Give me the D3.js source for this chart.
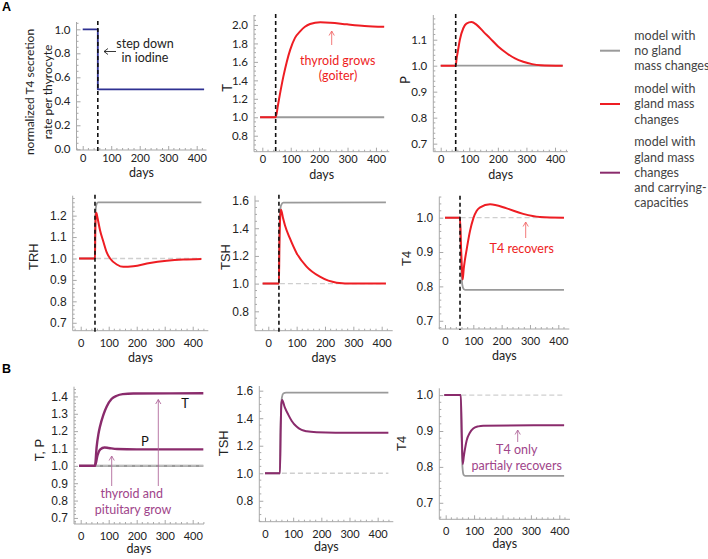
<!DOCTYPE html>
<html><head><meta charset="utf-8">
<script src="https://cdn.jsdelivr.net/npm/d3@7"></script>
<style>body{margin:0;background:#fff}</style>
</head><body>
<svg id="c" width="708" height="559"></svg>
<script>
// ---------------- DATA ----------------
const xTickValues = [0, 100, 200, 300, 400];
const secretionSteps = [[0,1],[53,1],[53,0.5],[426,0.5]];

const thyroidNoGlandA = [[-8,1],[429,1]];
const thyroidGlandA = [[-8,1],[47,1],[55,1.13],[62,1.25],[74,1.44],[86,1.6],[98,1.73],[115,1.86],[133,1.93],[150,1.98],[168,2.01],[204,2.03],[240,2.025],[298,2.007],[360,1.99],[429,1.98]];

const pituitaryNoGlandA = [[0,1],[427,1]];
const pituitaryGlandA = [[0,1],[52.5,1],[56,1.03],[60,1.055],[67,1.1],[79,1.144],[90,1.162],[108,1.168],[125,1.158],[150,1.13],[173,1.105],[200,1.075],[231,1.048],[260,1.028],[289,1.015],[320,1.006],[350,1.002],[427,1.0]];

const trhNoGlandA = [[-6,1],[51,1],[52,1.17],[54,1.235],[57,1.255],[62,1.262],[431,1.262]];
const trhGlandA = [[-6,1],[51,1],[52,1.12],[54,1.2],[56,1.213],[60,1.19],[69,1.132],[81,1.078],[93,1.028],[105,1.0],[129,0.972],[152,0.961],[188,0.964],[247,0.979],[307,0.989],[366,0.995],[431,0.998]];

const tshNoGlandA = [[-20,1],[37.5,1],[39,1.3],[41,1.5],[45,1.565],[53,1.585],[415,1.587]];
const tshGlandA = [[-20,1],[37.5,1],[39,1.25],[42,1.48],[45,1.533],[52,1.474],[59,1.42],[76,1.328],[100,1.22],[135,1.123],[182,1.05],[241,1.007],[300,1.0],[415,1.0]];

const t4NoGlandA = [[0,1],[53,1],[56,0.9],[58,0.84],[61,0.805],[66,0.792],[72,0.79],[420,0.79]];
const t4GlandA = [[0,1],[53,1],[56,0.93],[59.5,0.855],[62.5,0.82],[66,0.85],[70,0.875],[77,0.91],[88,0.96],[100,0.998],[112,1.02],[124,1.03],[159,1.039],[218,1.027],[276,1.011],[335,1.002],[420,1.0]];

const noGlandB = [[-6,1],[438,1]];
const thyroidCarry = [[-6,1],[51,1],[57,1.11],[63,1.18],[69,1.227],[81,1.294],[93,1.342],[110,1.385],[129,1.404],[150,1.413],[188,1.417],[438,1.418]];
const pituitaryCarry = [[-6,1],[51,1],[60,1.06],[70,1.095],[85,1.106],[100,1.103],[130,1.097],[200,1.095],[438,1.095]];

const tshNoGlandB = [[0,1],[53,1],[55,1.3],[57,1.45],[60,1.55],[65,1.58],[75,1.586],[438,1.586]];
const tshCarry = [[0,1],[53,1],[56,1.35],[58,1.5],[61,1.533],[70,1.48],[83,1.424],[95,1.38],[112,1.339],[130,1.315],[148,1.305],[183,1.298],[250,1.295],[438,1.295]];

const t4NoGlandB = [[-5,1],[53,1],[56,0.88],[59,0.8],[63,0.778],[68,0.775],[417,0.775]];
const t4Carry = [[-5,1],[53,1],[57,0.88],[60,0.808],[64,0.83],[68,0.85],[74,0.874],[85,0.895],[97,0.907],[115,0.913],[132,0.915],[417,0.916]];

const legendLabels = [
  ["model with","no gland","mass changes"],
  ["model with","gland mass","changes"],
  ["model with","gland mass","changes","and carrying-","capacities"]
];

// ---------------- STYLE ----------------
const RED = "#ee1d23", GRAY = "#9a9a9a", PURPLE = "#8a2b6c", PURPLE_TXT = "#a0458a", BLUE = "#2e3192";
const LATO = "Lato, 'Open Sans', sans-serif";
const ARIAL = "'Liberation Sans', Arial, sans-serif";

const svg = d3.select("#c");

const rows = {
  1: {tickOff: 11.7, daysOff: 27.3, yFont: LATO, ySize: 11.5},
  2: {tickOff: 16.3, daysOff: 31.3, yFont: ARIAL, ySize: 12},
  3: {tickOff: 16, daysOff: 29, yFont: ARIAL, ySize: 12}
};

const panels = [
  {row:1, L:76.5, R:206.5, T:22, B:150, xd:[-21.8,434.4], yd:[-0.006,1.061], yt:[0,.2,.4,.6,.8,1], ym:0.05, event:53,
   series:[{d:secretionSteps, c:BLUE, w:1.8, linear:true}]},
  {row:1, L:254, R:389.3, T:15, B:151.7, xd:[-29.3,447], yd:[0.627,2.108], yt:[.8,1,1.2,1.4,1.6,1.8,2.0], ym:0.05, event:47,
   series:[{d:thyroidNoGlandA, c:GRAY, w:1.8},{d:thyroidGlandA, c:RED, w:2}]},
  {row:1, L:433.3, R:568, T:15, B:151.7, xd:[-25.9,445.5], yd:[0.669,1.195], yt:[.7,.8,.9,1,1.1], ym:0.02, event:52.5,
   series:[{d:pituitaryNoGlandA, c:GRAY, w:1.8},{d:pituitaryGlandA, c:RED, w:2}]},
  {row:2, L:72.7, R:208.3, T:195.7, B:330.7, xd:[-28.6,455.7], yd:[0.663,1.293], yt:[.7,.8,.9,1,1.1,1.2], ym:0.02, event:51, ref:[55,431],
   series:[{d:trhNoGlandA, c:GRAY, w:1.8},{d:trhGlandA, c:RED, w:2}]},
  {row:2, L:255, R:392.7, T:195.7, B:330.7, xd:[-46.9,438.9], yd:[0.66,1.635], yt:[.8,1,1.2,1.4,1.6], ym:0.05, event:37.5, ref:[41,415],
   series:[{d:tshNoGlandA, c:GRAY, w:1.8},{d:tshGlandA, c:RED, w:2}]},
  {row:2, L:439.3, R:569.3, T:196.7, B:329, xd:[-20.1,438.8], yd:[0.676,1.061], yt:[.7,.8,.9,1], ym:0.02, event:53, ref:[55,420],
   series:[{d:t4NoGlandA, c:GRAY, w:1.8},{d:t4GlandA, c:RED, w:2}]},
  {row:3, L:74, R:204, T:386.7, B:524, xd:[-23.9,440.4], yd:[0.665,1.456], yt:[.7,.8,.9,1,1.1,1.2,1.3,1.4], ym:0.02, ref:[-6,438],
   series:[{d:noGlandB, c:GRAY, w:2.2},{d:pituitaryCarry, c:PURPLE, w:2.4},{d:thyroidCarry, c:PURPLE, w:2.4}]},
  {row:3, L:259.3, R:393.3, T:386, B:521.7, xd:[-20.2,455.5], yd:[0.648,1.634], yt:[.8,1,1.2,1.4,1.6], ym:0.05, ref:[60,438],
   series:[{d:tshNoGlandB, c:GRAY, w:1.8},{d:tshCarry, c:PURPLE, w:2}]},
  {row:3, L:439.3, R:570, T:388.3, B:519.3, xd:[-22.5,437.7], yd:[0.654,1.019], yt:[.7,.8,.9,1], ym:0.02, ref:[55,417],
   series:[{d:t4NoGlandB, c:GRAY, w:1.8},{d:t4Carry, c:PURPLE, w:2}]}
];

const AX = "#a8a8a8";
panels.forEach(p => {
  const rs = rows[p.row];
  const x = d3.scaleLinear().domain(p.xd).range([p.L, p.R]);
  const y = d3.scaleLinear().domain(p.yd).range([p.B, p.T]);
  const g = svg.append("g");

  // axes (frame left + bottom, inward ticks)
  const xMinor = d3.range(-20, p.xd[1], 20).filter(v => v >= p.xd[0] && !xTickValues.includes(v));
  const xa = d3.axisBottom(x).tickValues(xTickValues).tickSize(-4).tickPadding(0).tickFormat(d3.format("d"));
  const xg = g.append("g").attr("transform", `translate(0,${p.B})`).call(xa);
  xg.select(".domain").attr("stroke", AX).attr("d", `M${p.L},0H${p.R}`);
  xg.selectAll(".tick line").attr("stroke", AX);
  xg.selectAll(".tick text").attr("font-family", LATO).attr("font-size", 11).attr("fill", "#222")
    .attr("dy", null).attr("y", rs.tickOff);
  g.append("g").selectAll("line").data(xMinor).join("line")
    .attr("x1", d => x(d)).attr("x2", d => x(d)).attr("y1", p.B).attr("y2", p.B - 2)
    .attr("stroke", AX);

  const ya = d3.axisLeft(y).tickValues(p.yt).tickSize(-4).tickPadding(6).tickFormat(d3.format(".1f"));
  const yg = g.append("g").attr("transform", `translate(${p.L},0)`).call(ya);
  yg.select(".domain").attr("stroke", AX).attr("d", `M0,${p.T}V${p.B}`);
  yg.selectAll(".tick line").attr("stroke", AX);
  yg.selectAll(".tick text").attr("font-family", rs.yFont).attr("font-size", rs.ySize).attr("fill", "#222");
  const yMinor = d3.range(Math.ceil(p.yd[0] / p.ym) * p.ym, p.yd[1], p.ym)
    .filter(v => !p.yt.some(t => Math.abs(t - v) < 1e-6));
  g.append("g").selectAll("line").data(yMinor).join("line")
    .attr("x1", p.L).attr("x2", p.L + 2).attr("y1", d => y(d)).attr("y2", d => y(d))
    .attr("stroke", AX);

  // x label
  g.append("text").attr("x", (p.L + p.R) / 2).attr("y", p.B + rs.daysOff)
    .attr("text-anchor", "middle").attr("font-family", LATO).attr("font-size", 12.5).attr("fill", "#222").text("days");

  // reference dashed line
  if (p.ref) {
    if (p.row === 3 && p.ref[0] < 0) { /* handled after gray */ }
    else g.append("path").attr("d", d3.line()([[x(p.ref[0]), y(1)], [x(p.ref[1]), y(1)]]))
      .attr("stroke", "#cfcfcf").attr("stroke-width", 1.3).attr("stroke-dasharray", "5,3").attr("fill", "none");
  }

  p.series.forEach((s, i) => {
    const line = d3.line().x(d => x(d[0])).y(d => y(d[1])).curve(s.linear ? d3.curveLinear : d3.curveMonotoneX);
    g.append("path").attr("d", line(s.d)).attr("fill", "none").attr("stroke", s.c).attr("stroke-width", s.w)
      .attr("stroke-linejoin", "round");
    if (i === 0 && p.ref && p.ref[0] < 0) {
      g.append("path").attr("d", d3.line()([[x(p.ref[0]), y(1)], [x(p.ref[1]), y(1)]]))
        .attr("stroke", "#c8c8c8").attr("stroke-width", 1.4).attr("stroke-dasharray", "5,3").attr("fill", "none");
    }
  });

  if (p.event !== undefined) {
    g.append("line").attr("x1", x(p.event)).attr("x2", x(p.event)).attr("y1", p.T - 1).attr("y2", p.B + 1)
      .attr("stroke", "#111").attr("stroke-width", 1.6).attr("stroke-dasharray", "4,3");
  }
});

// ---------------- LABELS ----------------
function txt(x, y, s, opts = {}) {
  const t = svg.append("text").attr("x", x).attr("y", y).attr("text-anchor", opts.anchor || "middle")
    .attr("dominant-baseline", "central")
    .attr("font-family", opts.font || LATO).attr("font-size", opts.size || 12.5)
    .attr("fill", opts.color || "#222").text(s);
  if (opts.weight) t.attr("font-weight", opts.weight);
  if (opts.rot) t.attr("transform", `rotate(-90,${x},${y})`);
  return t;
}
function arrowUp(x, y1, y2, color) {
  svg.append("path").attr("d", `M${x},${y1}V${y2}M${x - 2.6},${y2 + 4.5}L${x},${y2}L${x + 2.6},${y2 + 4.5}`)
    .attr("stroke", color).attr("stroke-width", 0.9).attr("fill", "none");
}

// panel letters
txt(2, 7, "A", {anchor: "start", font: ARIAL, size: 12.5, weight: "bold", color: "#000"});
txt(2, 369, "B", {anchor: "start", font: ARIAL, size: 12.5, weight: "bold", color: "#000"});

// y labels
txt(29, 92, "normalized T4 secretion", {rot: true, size: 12});
txt(47, 92, "rate per thyrocyte", {rot: true, size: 12});
txt(227, 88, "T", {rot: true, size: 13});
txt(405, 80, "P", {rot: true, size: 13});
txt(33.3, 256.7, "TRH", {rot: true, font: ARIAL, size: 13});
txt(225, 257, "TSH", {rot: true, font: ARIAL, size: 13});
txt(406.7, 258.3, "T4", {rot: true, font: ARIAL, size: 13});
txt(39, 450, "T, P", {rot: true, font: ARIAL, size: 13});
txt(223.3, 443.3, "TSH", {rot: true, font: ARIAL, size: 13});
txt(401.7, 443.3, "T4", {rot: true, font: ARIAL, size: 13});

// annotations
txt(145, 43, "step down");
txt(145, 57, "in iodine");
svg.append("path").attr("d", "M116,51.5H104M108,48.5L104,51.5L108,54.5").attr("stroke", "#222").attr("stroke-width", 0.9).attr("fill", "none");

txt(337.7, 60, "thyroid grows", {color: RED});
txt(338, 75, "(goiter)", {color: RED});
arrowUp(331.7, 45, 31, "#f26b6b");

txt(521.7, 248.3, "T4 recovers", {color: RED});
arrowUp(525.7, 238, 222, "#f26b6b");

txt(185, 403.3, "T", {size: 13, color: "#111"});
txt(145, 441, "P", {size: 13, color: "#111"});
txt(131.7, 493.3, "thyroid and", {color: PURPLE_TXT});
txt(133, 509, "pituitary grow", {color: PURPLE_TXT});
arrowUp(111.7, 486, 456, "#b16a9c");
arrowUp(158.3, 486, 399.5, "#b16a9c");

arrowUp(517.7, 442, 430, "#b16a9c");
txt(516.7, 449.3, "T4 only", {color: PURPLE_TXT});
txt(516.7, 465, "partialy recovers", {color: PURPLE_TXT});

// legend
const legendColors = [GRAY, RED, PURPLE];
const legendLineY = [50.7, 104, 172.7];
const legendTextY = [[35, 50, 65.7], [88, 103.3, 119], [141.7, 157, 172.3, 187.7, 202.7]];
legendLabels.forEach((lines, i) => {
  svg.append("line").attr("x1", 600).attr("x2", 620).attr("y1", legendLineY[i]).attr("y2", legendLineY[i])
    .attr("stroke", legendColors[i]).attr("stroke-width", 2);
  lines.forEach((s, j) => txt(634.3, legendTextY[i][j], s, {anchor: "start", color: "#444"}));
});
</script>
</body></html>
